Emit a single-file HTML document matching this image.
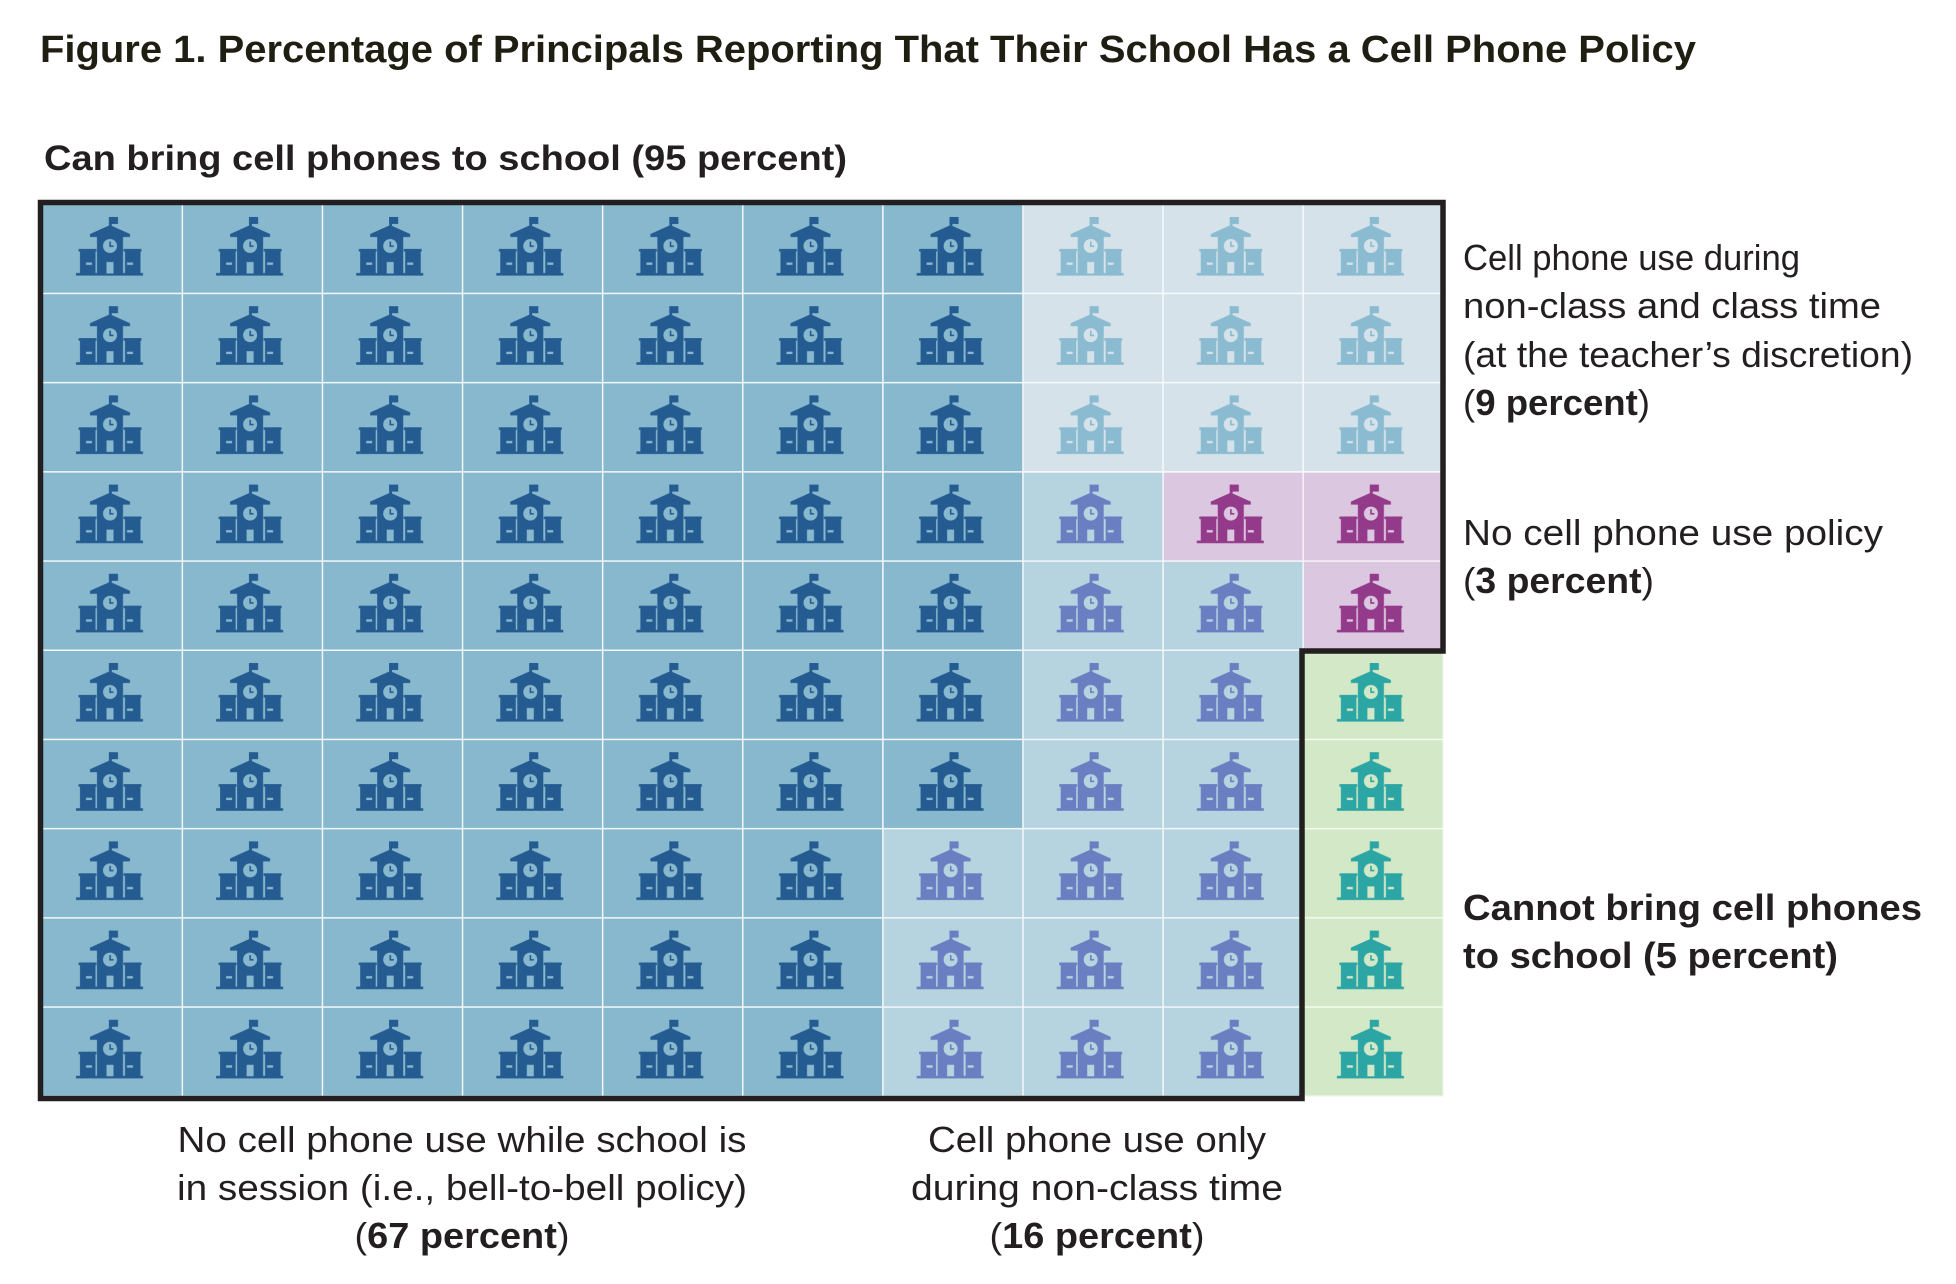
<!DOCTYPE html>
<html><head><meta charset="utf-8"><style>
html,body{margin:0;padding:0;background:#fff}
svg{display:block}
text{font-family:"Liberation Sans",Arial,sans-serif;fill:#231f20}
</style></head><body>
<svg width="1956" height="1284" viewBox="0 0 1956 1284" xmlns="http://www.w3.org/2000/svg">
<defs>
<symbol id="ic" viewBox="0 0 67 60" overflow="visible">
  <rect x="33" y="0" width="9" height="7" fill="currentColor"/>
  <rect x="33" y="0" width="2.8" height="14" fill="currentColor"/>
  <polygon points="14,17 34,8 54,17 54,20 14,20" fill="currentColor"/>
  <rect x="21" y="16" width="26" height="41" fill="currentColor"/>
  <rect x="4" y="32" width="15.5" height="25" fill="currentColor"/>
  <rect x="49" y="32" width="15.5" height="25" fill="currentColor"/>
  <rect x="2.5" y="32" width="18" height="2.5" fill="currentColor"/>
  <rect x="47.5" y="32" width="18" height="2.5" fill="currentColor"/>
  <rect x="0" y="56" width="67" height="2.6" fill="currentColor"/>
  <circle cx="34" cy="29" r="7" fill="var(--bg)"/>
  <rect x="33.3" y="24.5" width="1.6" height="5.3" fill="currentColor"/>
  <rect x="33.3" y="28.4" width="4.2" height="1.6" fill="currentColor"/>
  <rect x="30.5" y="45" width="7" height="11.5" fill="var(--bg)"/>
  <rect x="10" y="45.5" width="6" height="2.4" fill="var(--bg)"/>
  <rect x="51" y="45.5" width="6" height="2.4" fill="var(--bg)"/>
</symbol>
<pattern id="pDark" patternUnits="userSpaceOnUse" x="43" y="205" width="140.1" height="89.2">
  <rect width="140.1" height="89.2" fill="#88b8cd"/>
  <rect x="138.6" width="1.5" height="89.2" fill="#f2f7f9"/><rect y="87.7" width="140.1" height="1.5" fill="#f2f7f9"/>
  <use href="#ic" x="33" y="12" width="67" height="60" style="color:#245b91;--bg:#88b8cd"/>
</pattern>
<pattern id="pMid" patternUnits="userSpaceOnUse" x="43" y="205" width="140.1" height="89.2">
  <rect width="140.1" height="89.2" fill="#b6d3e0"/>
  <rect x="138.6" width="1.5" height="89.2" fill="#f2f7f9"/><rect y="87.7" width="140.1" height="1.5" fill="#f2f7f9"/>
  <use href="#ic" x="33" y="12" width="67" height="60" style="color:#6a7fc1;--bg:#b6d3e0"/>
</pattern>
<pattern id="pLight" patternUnits="userSpaceOnUse" x="43" y="205" width="140.1" height="89.2">
  <rect width="140.1" height="89.2" fill="#d5e2e9"/>
  <rect x="138.6" width="1.5" height="89.2" fill="#f7fafb"/><rect y="87.7" width="140.1" height="1.5" fill="#f7fafb"/>
  <use href="#ic" x="33" y="12" width="67" height="60" style="color:#8abbd0;--bg:#d5e2e9"/>
</pattern>
<pattern id="pPurp" patternUnits="userSpaceOnUse" x="43" y="205" width="140.1" height="89.2">
  <rect width="140.1" height="89.2" fill="#dcc7e0"/>
  <rect x="138.6" width="1.5" height="89.2" fill="#f7f2f8"/><rect y="87.7" width="140.1" height="1.5" fill="#f7f2f8"/>
  <use href="#ic" x="33" y="12" width="67" height="60" style="color:#933a8a;--bg:#dcc7e0"/>
</pattern>
<pattern id="pGreen" patternUnits="userSpaceOnUse" x="43" y="205" width="140.1" height="89.2">
  <rect width="140.1" height="89.2" fill="#d3e8c6"/>
  <rect x="138.6" width="1.5" height="89.2" fill="#f5faf2"/><rect y="87.7" width="140.1" height="1.5" fill="#f5faf2"/>
  <use href="#ic" x="33" y="12" width="67" height="60" style="color:#2ca6a4;--bg:#d3e8c6"/>
</pattern>
</defs>

<text x="40" y="62" font-size="38" font-weight="bold" textLength="1656" lengthAdjust="spacingAndGlyphs" style="fill:#1f1e12">Figure 1. Percentage of Principals Reporting That Their School Has a Cell Phone Policy</text>
<text x="44" y="170" font-size="35" font-weight="bold" textLength="803" lengthAdjust="spacingAndGlyphs">Can bring cell phones to school (95 percent)</text>

<rect x="43" y="205" width="840.6" height="892" fill="url(#pDark)"/>
<rect x="883.6" y="205" width="140.1" height="624.4" fill="url(#pDark)"/>
<rect x="883.6" y="829.4" width="140.1" height="267.6" fill="url(#pMid)"/>
<rect x="1023.7" y="472.6" width="140.1" height="624.4" fill="url(#pMid)"/>
<rect x="1163.8" y="561.8" width="140.1" height="535.2" fill="url(#pMid)"/>
<rect x="1023.7" y="205" width="420.3" height="267.6" fill="url(#pLight)"/>
<rect x="1163.8" y="472.6" width="140.1" height="89.2" fill="url(#pPurp)"/>
<rect x="1303.9" y="472.6" width="140.1" height="178.4" fill="url(#pPurp)"/>
<rect x="1303.9" y="651" width="140.1" height="446" fill="url(#pGreen)"/>

<path d="M40.5,202.5 H1443 V651 H1302 V1098.5 H40.5 Z" fill="none" stroke="#231f20" stroke-width="5.5"/>

<g font-size="36">
<text x="1463" y="270" textLength="337" lengthAdjust="spacingAndGlyphs">Cell phone use during</text>
<text x="1463" y="318" textLength="418" lengthAdjust="spacingAndGlyphs">non-class and class time</text>
<text x="1463" y="367" textLength="450" lengthAdjust="spacingAndGlyphs">(at the teacher’s discretion)</text>
<text x="1463" y="415" textLength="187" lengthAdjust="spacingAndGlyphs">(<tspan font-weight="bold">9 percent</tspan>)</text>
<text x="1463" y="545" textLength="420" lengthAdjust="spacingAndGlyphs">No cell phone use policy</text>
<text x="1463" y="593" textLength="191" lengthAdjust="spacingAndGlyphs">(<tspan font-weight="bold">3 percent</tspan>)</text>
<text x="1463" y="920" font-weight="bold" textLength="459" lengthAdjust="spacingAndGlyphs">Cannot bring cell phones</text>
<text x="1463" y="968" font-weight="bold" textLength="375" lengthAdjust="spacingAndGlyphs">to school (5 percent)</text>
<g text-anchor="middle">
<text x="462" y="1152" textLength="569" lengthAdjust="spacingAndGlyphs">No cell phone use while school is</text>
<text x="462" y="1200" textLength="570" lengthAdjust="spacingAndGlyphs">in session (i.e., bell-to-bell policy)</text>
<text x="462" y="1248" textLength="215" lengthAdjust="spacingAndGlyphs">(<tspan font-weight="bold">67 percent</tspan>)</text>
<text x="1097" y="1152" textLength="338" lengthAdjust="spacingAndGlyphs">Cell phone use only</text>
<text x="1097" y="1200" textLength="372" lengthAdjust="spacingAndGlyphs">during non-class time</text>
<text x="1097" y="1248" textLength="215" lengthAdjust="spacingAndGlyphs">(<tspan font-weight="bold">16 percent</tspan>)</text>
</g>
</g>
</svg>
</body></html>
